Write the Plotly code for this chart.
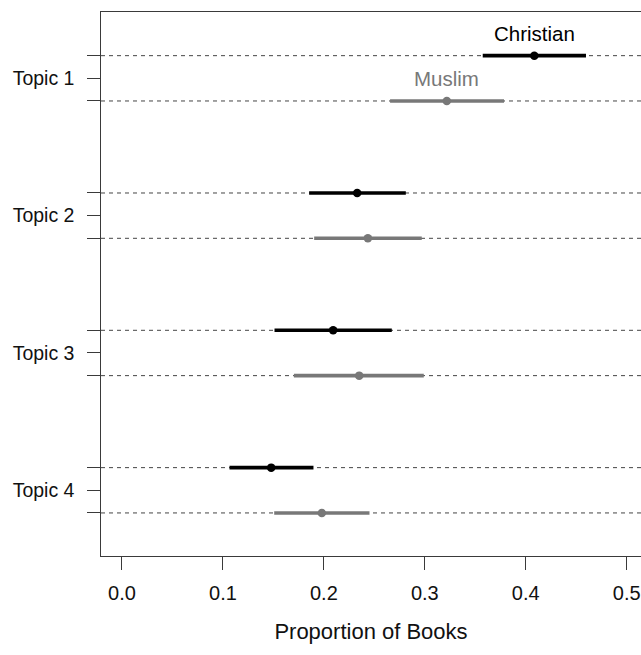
import plotly.graph_objects as go

# ---- data ----
topics = ["Topic 1", "Topic 2", "Topic 3", "Topic 4"]
groups = ["Christian", "Muslim"]
christian_est = [0.4085, 0.233, 0.2092, 0.1478]
christian_lo = [0.3574, 0.1854, 0.1511, 0.1065]
christian_hi = [0.4597, 0.2812, 0.2673, 0.1897]
muslim_est = [0.3218, 0.2436, 0.235, 0.198]
muslim_lo = [0.2656, 0.1904, 0.1703, 0.1508]
muslim_hi = [0.3785, 0.297, 0.299, 0.2452]
x_ticks = [0.0, 0.1, 0.2, 0.3, 0.4, 0.5]
x_ticklabels = ["0.0", "0.1", "0.2", "0.3", "0.4", "0.5"]

# ---- styling ----
FONT = "Liberation Sans, Arial, Helvetica, sans-serif"
AXC = "#3a3a3a"
TXT = "#111111"
colors = {"Christian": "#000000", "Muslim": "#787878"}
offset = 0.165

series = {
    "Christian": (christian_est, christian_lo, christian_hi, -offset),
    "Muslim": (muslim_est, muslim_lo, muslim_hi, offset),
}

fig = go.Figure()
shapes = []
annotations = []
ytickvals, yticktext = [], []

for i, t in enumerate(topics):
    ytickvals.append(i + 1)
    yticktext.append(t)

for g in groups:
    est, lo, hi, off = series[g]
    col = colors[g]
    for i in range(len(topics)):
        pos = i + 1 + off
        ytickvals.append(pos)
        yticktext.append("")
        shapes.append(dict(type="line", xref="paper", yref="y", x0=0, x1=1,
                           y0=pos, y1=pos, layer="below",
                           line=dict(color="#454545", width=1, dash="4px,4px")))
        fig.add_trace(go.Scatter(x=[lo[i], hi[i]], y=[pos, pos], mode="lines",
                                 line=dict(color=col, width=3.6),
                                 showlegend=False, hoverinfo="skip"))
        fig.add_trace(go.Scatter(x=[est[i]], y=[pos], mode="markers",
                                 marker=dict(color=col, size=8.5),
                                 showlegend=False))
    # group label above topic-1 estimate
    annotations.append(dict(x=est[0], y=1 + off, xref="x", yref="y", text=g,
                            showarrow=False, yshift=22,
                            font=dict(family=FONT, size=20.5, color=col)))

fig.update_layout(
    width=641, height=655,
    margin=dict(l=101, r=0, t=12, b=99),
    paper_bgcolor="white", plot_bgcolor="white",
    font=dict(family=FONT, size=19.5, color=TXT),
    shapes=shapes, annotations=annotations,
    showlegend=False,
)
fig.update_xaxes(
    range=[-0.0208, 0.5142], tickvals=x_ticks, ticktext=x_ticklabels,
    showline=True, linecolor=AXC, linewidth=1.3, mirror=True,
    ticks="outside", ticklen=13, tickwidth=1.3, tickcolor=AXC,
    ticklabelstandoff=6,
    showgrid=False, zeroline=False,
    tickfont=dict(family=FONT, size=20, color=TXT),
    title=dict(text="Proportion of Books", standoff=20,
               font=dict(family=FONT, size=22, color=TXT)),
)
fig.update_yaxes(
    range=[4.4785, 0.517], tickvals=ytickvals, ticktext=yticktext,
    showline=True, linecolor=AXC, linewidth=1.3, mirror=False,
    ticks="outside", ticklen=12.5, tickwidth=1.3, tickcolor=AXC,
    ticklabelstandoff=9,
    showgrid=False, zeroline=False,
    tickfont=dict(family=FONT, size=19.5, color=TXT),
)

# remove the default page margin so the 641x655 figure fills the window exactly
fig.write_html("out.html",
               config={"displayModeBar": False},
               post_script="document.body.style.margin='0';document.body.style.overflow='hidden';")
